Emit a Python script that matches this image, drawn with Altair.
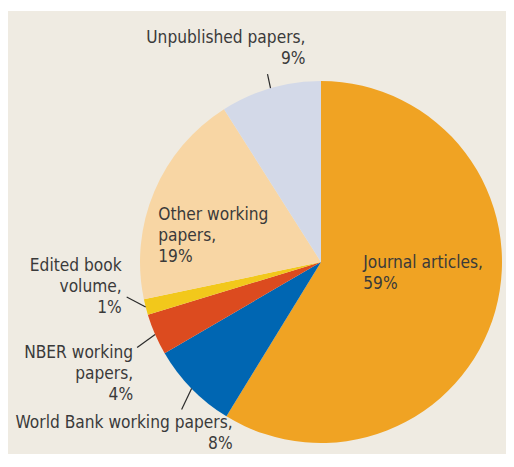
import math
import altair as alt
import pandas as pd

# ---- data ----
categories = ["Journal articles", "World Bank working papers", "NBER working papers",
              "Edited book volume", "Other working papers", "Unpublished papers"]
shares = [58.75, 7.85, 3.7, 1.4, 19.3, 9.0]          # slice sizes (%)
label_pct = ["59%", "8%", "4%", "1%", "19%", "9%"]    # printed labels
label_lines = [["Journal articles,"],
               ["World Bank working papers,"],
               ["NBER working", "papers,"],
               ["Edited book", "volume,"],
               ["Other working", "papers,"],
               ["Unpublished papers,"]]

# ---- styling / layout ----
colors = ["#f0a323", "#0066b2", "#dc4b1f", "#f2c81b", "#f8d6a4", "#d3d9e8"]
W, H = 498, 443
CX, CY, R = 313, 251, 181
FONT = "DejaVu Sans Condensed, Liberation Sans, sans-serif"
# per label: text offset from the slice edge mid-point, alignment, leader vector
text_off = [(-132, -43), (41, 39), (-22, 24), (-24, -36), (4, 28), (35, -45)]
aligns = ["left", "right", "right", "right", "left", "right"]
leader_vec = [None, (-10, 21), (-18, 13), (-19, -10), None, (-3, -14)]

total = sum(shares)
rows, leaders = [], []
cum = 0.0
for i, (c, s) in enumerate(zip(categories, shares)):
    mid = (cum + s / 2) / total * 2 * math.pi
    cum += s
    ex = CX + R * math.sin(mid)
    ey = CY - R * math.cos(mid)
    dx, dy = text_off[i]
    rows.append({"cat": c, "share": s, "idx": i,
                 "label": "\n".join(label_lines[i] + [label_pct[i]]),
                 "tx": ex + dx, "ty": ey + dy, "align": aligns[i]})
    if leader_vec[i] is not None:
        lx, ly = leader_vec[i]
        leaders.append({"x1": ex, "y1": ey, "x2": ex + lx, "y2": ey + ly})

df = pd.DataFrame(rows)
ldf = pd.DataFrame(leaders)

pie = alt.Chart(df).mark_arc(outerRadius=R, stroke=None).encode(
    theta=alt.Theta("share:Q", stack=True),
    order=alt.Order("idx:Q", sort="ascending"),
    color=alt.Color("cat:N", scale=alt.Scale(domain=categories, range=colors), legend=None),
    x=alt.value(CX),
    y=alt.value(CY),
)

lead = alt.Chart(ldf).mark_rule(color="#2a2a2a", strokeWidth=1.2).encode(
    x=alt.X("x1:Q", scale=None, axis=None),
    y=alt.Y("y1:Q", scale=None, axis=None),
    x2="x2:Q",
    y2="y2:Q",
)

def text_layer(al):
    return alt.Chart(df).transform_filter(alt.datum.align == al).mark_text(
        align=al, baseline="alphabetic", lineBreak="\n", lineHeight=21,
        font=FONT, fontSize=17.2, color="#3a3a3a",
    ).encode(
        x=alt.X("tx:Q", scale=None, axis=None),
        y=alt.Y("ty:Q", scale=None, axis=None),
        text="label:N",
    )

chart = alt.layer(pie, lead, text_layer("left"), text_layer("right")).properties(
    width=W, height=H,
    autosize=alt.AutoSizeParams(type="none"),
    padding={"left": 0, "top": 3, "right": 0, "bottom": 0},
    background="white",
).configure_view(fill="#efebe2", strokeWidth=0)

chart.save("out.html", embed_options={"renderer": "svg", "actions": False})
